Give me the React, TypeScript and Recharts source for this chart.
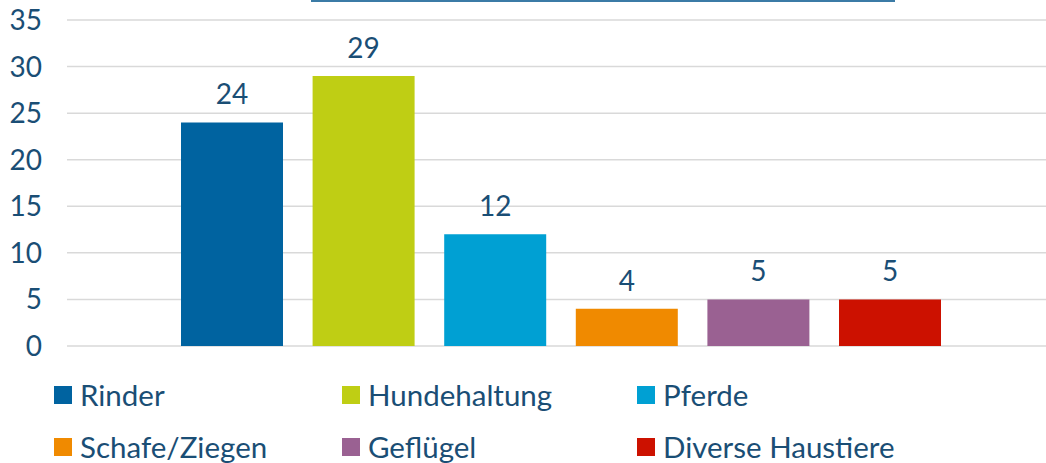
import React from "react";
import { BarChart, Bar, XAxis, YAxis, CartesianGrid, Legend, LabelList } from "recharts";

const seriesNames = ["Rinder", "Hundehaltung", "Pferde", "Schafe/Ziegen", "Geflügel", "Diverse Haustiere"];
const seriesValues = [24, 29, 12, 4, 5, 5];
const seriesColors = ["#0063a0", "#bfce14", "#00a0d3", "#f08a00", "#9a6192", "#cc1100"];
const yTicks = [0, 5, 10, 15, 20, 25, 30, 35];
const category = "Tiere";

const data = [
  seriesNames.reduce(
    (row: Record<string, string | number>, name, i) => {
      row[name] = seriesValues[i];
      return row;
    },
    { cat: category } as Record<string, string | number>
  ),
];

const TEXT = "#1a4e75";
const FONT = "Lato, 'Open Sans', sans-serif";
const legendCols = [54, 342, 637];
const legendRows = [395, 447];

const renderLegend = (props: any) => {
  const payload = [...(props.payload || [])].sort(
    (a: any, b: any) => seriesNames.indexOf(a.value) - seriesNames.indexOf(b.value)
  );
  return (
    <div style={{ position: "relative", width: 1046, height: 93 }}>
      {payload.map((entry: any, i: number) => {
        const col = i % 3;
        const row = Math.floor(i / 3);
        return (
          <div
            key={i}
            style={{
              position: "absolute",
              left: legendCols[col],
              top: legendRows[row] - 370 - 14,
              height: 28,
              display: "flex",
              alignItems: "center",
              whiteSpace: "nowrap",
            }}
          >
            <span style={{ display: "inline-block", width: 18, height: 18, background: entry.color, marginRight: 8 }} />
            <span style={{ fontFamily: FONT, fontSize: 29.5, color: TEXT, lineHeight: "28px" }}>{entry.value}</span>
          </div>
        );
      })}
    </div>
  );
};

export default function App() {
  return (
    <div
      style={{
        position: "absolute",
        left: 0,
        top: 0,
        width: 1046,
        height: 463,
        overflow: "hidden",
        background: "#ffffff",
      }}
    >
      <div
        style={{
          position: "absolute",
          left: 311,
          top: 0,
          width: 584,
          height: 2,
          background: "#3b7ba6",
        }}
      />
      <BarChart
        width={1055}
        height={463}
        data={data}
        margin={{ top: 20, right: 0, bottom: 117, left: 0 }}
        barGap={29.6}
        style={{ position: "absolute", left: 0, top: 0 }}
      >
        <CartesianGrid horizontal vertical={false} stroke="#d9d9d9" strokeWidth={1.5} />
        <XAxis dataKey="cat" hide />
        <YAxis
          width={67}
          domain={[0, 35]}
          ticks={yTicks}
          interval={0}
          axisLine={false}
          tickLine={false}
          tickSize={0}
          tickMargin={25}
          tick={{ fill: TEXT, fontSize: 28, fontFamily: FONT }}
        />
        <Legend
          layout="vertical"
          align="center"
          verticalAlign="middle"
          wrapperStyle={{ left: 0, top: 370, width: 1046, height: 93 }}
          content={renderLegend}
        />
        {seriesNames.map((name, i) => (
          <Bar key={name} dataKey={name} name={name} fill={seriesColors[i]} barSize={102} isAnimationActive={false}>
            <LabelList
              dataKey={name}
              position="top"
              offset={18}
              fill={TEXT}
              fontSize={28}
              fontFamily={FONT}
            />
          </Bar>
        ))}
      </BarChart>
    </div>
  );
}
